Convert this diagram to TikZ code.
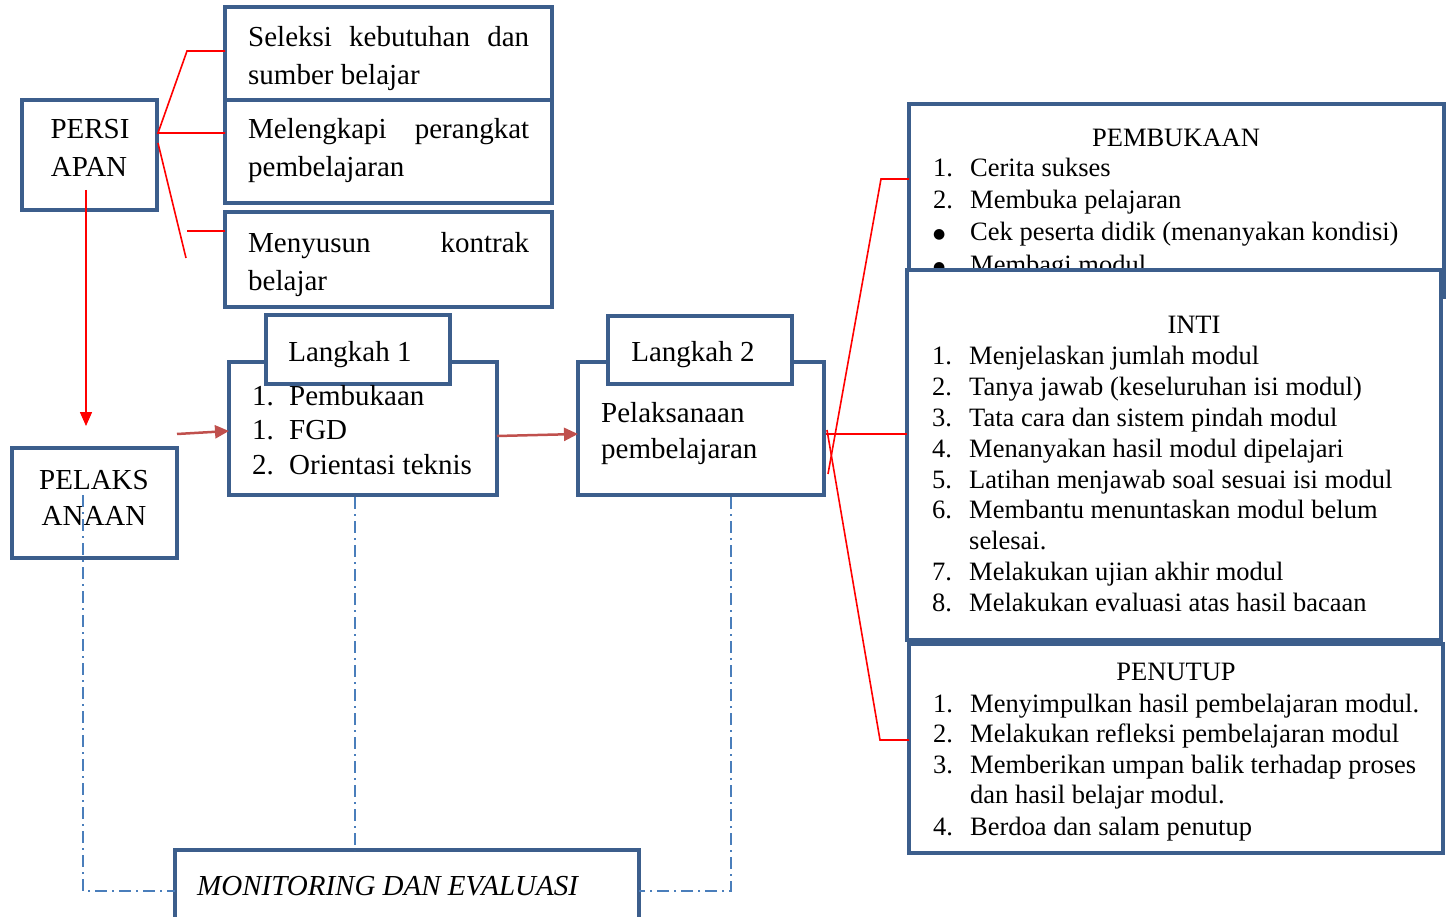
\documentclass[tikz,border=0pt]{standalone}
\usepackage{fontspec}
\setmainfont{Liberation Serif}
\newfontfamily\symfont{DejaVu Sans}
\usetikzlibrary{arrows.meta}
\definecolor{bxblue}{RGB}{60,94,140}
\definecolor{arrred}{RGB}{192,80,77}
\definecolor{dashblue}{RGB}{74,126,187}
\newcommand{\mynum}[1]{\makebox[37pt][l]{#1}}
\newcommand{\mybul}{\makebox[37pt][l]{\raisebox{2.5pt}{\symfont\fontsize{14}{14}\selectfont ●}}}
\begin{document}
\begin{tikzpicture}[x=1pt,y=-1pt,
  bx/.style={draw=bxblue, line width=4.5pt, fill=white, rectangle, inner sep=0pt, outer sep=0pt, anchor=north west},
  lt/.style={font=\fontsize{29}{35}\selectfont, inner sep=0pt, anchor=base west},
  lc/.style={font=\fontsize{29}{35}\selectfont, inner sep=0pt, anchor=base},
  rt/.style={font=\fontsize{26.5}{31}\selectfont, inner sep=0pt, anchor=base west},
  rc/.style={font=\fontsize{26.5}{31}\selectfont, inner sep=0pt, anchor=base},
  redln/.style={draw=red, line width=1.6pt},
  redarr/.style={draw=red, line width=1.6pt, -{Triangle[length=14pt,width=12pt]}},
  darr/.style={draw=arrred, line width=2.5pt, -{Triangle[length=14pt,width=13pt]}},
  dd/.style={draw=dashblue, line width=1.5pt, dash pattern=on 12pt off 5pt on 2pt off 5pt}
]
\useasboundingbox (0,0) rectangle (1446,917);

% ---- left column boxes
\node[bx, minimum width=135pt, minimum height=110pt] (persiapan) at (22,100) {};
\node[lc] (persiapanA) at (90,139) {PERSI};
\node[lc] (persiapanB) at (89,177) {APAN};

\node[bx, minimum width=327pt, minimum height=93pt] (sel) at (225,7) {};
\node[lt] (selA) at (248,47) {\hbox to 281pt{Seleksi\hfill kebutuhan\hfill dan}};
\node[lt] (selB) at (248,85) {sumber belajar};

\node[bx, minimum width=327pt, minimum height=103pt] (mel) at (225,100) {};
\node[lt] (melA) at (248,139) {\hbox to 281pt{Melengkapi\hfill perangkat}};
\node[lt] (melB) at (248,177) {pembelajaran};

\node[bx, minimum width=327pt, minimum height=95pt] (men) at (225,212) {};
\node[lt] (menA) at (248,253) {\hbox to 281pt{Menyusun\hfill kontrak}};
\node[lt] (menB) at (248,291) {belajar};

\node[bx, minimum width=165pt, minimum height=110pt] (pel) at (12,448) {};
\node[lc] (pelA) at (94,489) {PELAKS};
\node[lc] (pelB) at (94,525) {ANAAN};

% ---- Langkah 1
\node[bx, minimum width=268pt, minimum height=133pt] (l1) at (229,362) {};
\node[bx, minimum width=184pt, minimum height=69pt] (l1tab) at (266,315) {};
\node[lc] (l1t) at (350,361) {Langkah 1};
\node[lt] (l1a) at (252,405) {\mynum{1.}Pembukaan};
\node[lt] (l1b) at (252,439) {\mynum{1.}FGD};
\node[lt] (l1c) at (252,474) {\mynum{2.}Orientasi teknis};

% ---- Langkah 2
\node[bx, minimum width=246pt, minimum height=133pt] (l2) at (578,362) {};
\node[bx, minimum width=184pt, minimum height=68pt] (l2tab) at (608,316) {};
\node[lc] (l2t) at (693,362) {Langkah 2};
\node[lt] (l2a) at (601,422) {Pelaksanaan};
\node[lt] (l2b) at (601,458) {pembelajaran};

% ---- Monitoring
\node[bx, minimum width=464pt, minimum height=80pt] (mon) at (175,850) {};
\node[lt, font=\fontsize{29}{35}\selectfont\itshape] (monT) at (197,895) {MONITORING DAN EVALUASI};

% ---- PEMBUKAAN
\node[bx, minimum width=535pt, minimum height=193pt] (pemb) at (909,104) {};
\node[rc] (pembT) at (1176,147) {PEMBUKAAN};
\node[rt] (pemb1) at (933,177) {\mynum{1.}Cerita sukses};
\node[rt] (pemb2) at (933,209) {\mynum{2.}Membuka pelajaran};
\node[rt] (pemb3) at (933,241) {\mybul Cek peserta didik (menanyakan kondisi)};
\node[rt] (pemb4) at (933,274) {\mybul Membagi modul};

% ---- INTI
\node[bx, minimum width=534pt, minimum height=370pt] (inti) at (907,270) {};
\node[rc] (intiT) at (1194,334) {INTI};
\node[rt] (inti1) at (932,364) {\mynum{1.}Menjelaskan jumlah modul};
\node[rt] (inti2) at (932,395) {\mynum{2.}Tanya jawab (keseluruhan isi modul)};
\node[rt] (inti3) at (932,426) {\mynum{3.}Tata cara dan sistem pindah modul};
\node[rt] (inti4) at (932,457) {\mynum{4.}Menanyakan hasil modul dipelajari};
\node[rt] (inti5) at (932,488) {\mynum{5.}Latihan menjawab soal sesuai isi modul};
\node[rt] (inti6) at (932,518) {\mynum{6.}Membantu menuntaskan modul belum};
\node[rt] (inti6b) at (932,549) {\mynum{}selesai.};
\node[rt] (inti7) at (932,580) {\mynum{7.}Melakukan ujian akhir modul};
\node[rt] (inti8) at (932,611) {\mynum{8.}Melakukan evaluasi atas hasil bacaan};

% ---- PENUTUP
\node[bx, minimum width=534pt, minimum height=209pt] (pen) at (909,644) {};
\node[rc] (penT) at (1176,680) {PENUTUP};
\node[rt] (pen1) at (933,712) {\mynum{1.}Menyimpulkan hasil pembelajaran modul.};
\node[rt] (pen2) at (933,742) {\mynum{2.}Melakukan refleksi pembelajaran modul};
\node[rt] (pen3) at (933,773) {\mynum{3.}Memberikan umpan balik terhadap proses};
\node[rt] (pen3b) at (933,803) {\mynum{}dan hasil belajar modul.};
\node[rt] (pen4) at (933,835) {\mynum{4.}Berdoa dan salam penutup};

% ---- left red bracket
\coordinate (ba) at (187,51);
\coordinate (bb) at (158,133);
\coordinate (bc) at (158,143);
\coordinate (bd) at (186,258);
\coordinate (be) at (187,231);
\draw[redln] (sel.west |- ba) -- (ba) -- (bb) -- (mel.west |- bb);
\draw[redln] (bc) -- (bd);
\draw[redln] (be) -- (men.west |- be);

% ---- right red bracket
\coordinate (ra) at (881,179);
\coordinate (rb) at (828,474);
\coordinate (rc) at (827,430);
\coordinate (rd) at (880,740);
\coordinate (rm) at (826,434);
\draw[redln] (pemb.west |- ra) -- (ra) -- (rb);
\draw[redln] (rm) -- (inti.west |- rm);
\draw[redln] (rc) -- (rd) -- (pen.west |- rd);

% ---- arrows
\coordinate (v1) at (86,190);
\coordinate (v2) at (86,426);
\draw[redarr] (v1) -- (v2);
\coordinate (a1) at (177,434);
\coordinate (a2) at (229,431);
\draw[darr] (a1) -- (a2);
\coordinate (a3) at (497,436);
\coordinate (a4) at (578,434);
\draw[darr] (a3) -- (a4);

% ---- dash-dot monitoring lines
\coordinate (d1) at (83,495);
\coordinate (dm) at (400,891);
\coordinate (d2) at (355,497);
\coordinate (d3) at (731,497);
\draw[dd] (d1) -- (d1 |- dm) -- (mon.west |- dm);
\draw[dd] (d2) -- (d2 |- mon.north);
\draw[dd] (d3) -- (d3 |- dm) -- (mon.east |- dm);
\end{tikzpicture}
\end{document}
